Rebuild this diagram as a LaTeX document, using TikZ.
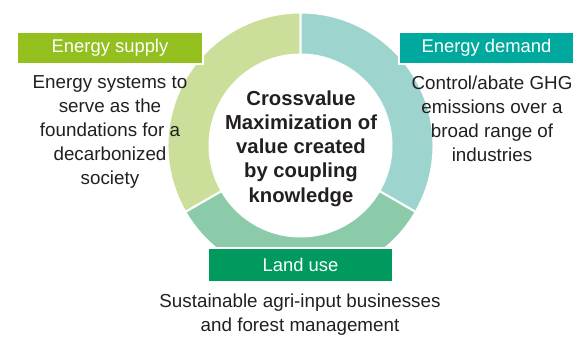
\documentclass[tikz,border=0pt]{standalone}
\usepackage{fontspec}
\setmainfont{Liberation Sans}
\usepackage{xcolor}
\definecolor{supplyGreen}{RGB}{147,192,31}
\definecolor{supplyRing}{RGB}{204,223,154}
\definecolor{demandTeal}{RGB}{0,169,157}
\definecolor{demandRing}{RGB}{157,213,206}
\definecolor{landGreen}{RGB}{0,154,94}
\definecolor{landRing}{RGB}{140,203,170}
\definecolor{bodyText}{RGB}{35,31,32}

\tikzset{
  titlebox/.style={draw=white, line width=1.5pt, text=white, minimum height=24pt, inner sep=0pt, font=\fontsize{13.8}{16}\selectfont},
  desctext/.style={align=center, inner sep=0.75pt, text=bodyText, font=\fontsize{14.1}{18}\selectfont},
  ringpart/.style={draw=white, line width=1.5pt}
}

\begin{document}
\begin{tikzpicture}[x=0.75pt,y=0.75pt,yscale=-1,xscale=1]
    \useasboundingbox (0,0) rectangle (580,338);

    %Shape: Ring segments
    \begin{scope}[shift={(300.5,145.5)}]
    \filldraw [ringpart, fill=supplyRing] (150:133) arc [start angle=150, end angle=270, radius=133] -- (270:91) arc [start angle=270, end angle=150, radius=91] -- cycle ;
    \filldraw [ringpart, fill=demandRing] (270:133) arc [start angle=270, end angle=390, radius=133] -- (30:91) arc [start angle=30, end angle=-90, radius=91] -- cycle ;
    \filldraw [ringpart, fill=landRing] (30:133) arc [start angle=30, end angle=150, radius=133] -- (150:91) arc [start angle=150, end angle=30, radius=91] -- cycle ;
    \end{scope}

    % Title boxes
    \node (supply) [titlebox, fill=supplyGreen, minimum width=139.5pt] at (110,48) {Energy supply};
    \node (demand) [titlebox, fill=demandTeal, minimum width=131.25pt] at (486.5,48) {Energy demand};
    \node (landuse) [titlebox, fill=landGreen, minimum width=138.75pt, minimum height=25.5pt] at (300.5,265) {Land use};

    % Text Node
    \node (supplytext) [desctext] at (110,131.5) {Energy systems to\\serve as the\\foundations for a\\decarbonized\\society};
    % Text Node
    \node (demandtext) [desctext] at (492,119) {Control/abate GHG\\emissions over a\\broad range of\\industries};
    % Text Node
    \node (landtext) [desctext] at (300,315) {Sustainable agri-input businesses\\and forest management};
    % Text Node
    \node (crossvalue) [desctext, font=\fontsize{15.2}{18.2}\selectfont\bfseries] at (301,148.5) {Crossvalue\\Maximization of\\value created\\by coupling\\knowledge};

\end{tikzpicture}
\end{document}
